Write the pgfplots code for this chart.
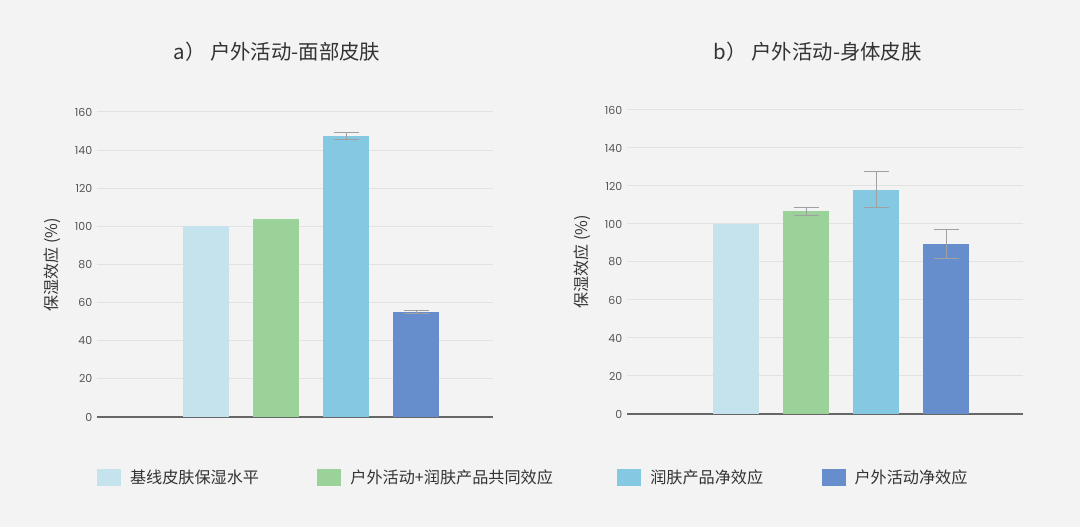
\documentclass[border=0pt]{standalone}
\usepackage{pgfplots}
\pgfplotsset{compat=1.18}
\usepackage{fontspec}
\setmainfont{Poppins}
\newfontfamily\cjk{Noto Sans CJK SC}
\newfontfamily\pop{Poppins}
\definecolor{bg}{HTML}{F3F3F3}
\definecolor{cA}{HTML}{C5E3EC}
\definecolor{cB}{HTML}{9BD29A}
\definecolor{cC}{HTML}{84C8E2}
\definecolor{cD}{HTML}{678ECC}
\definecolor{axgray}{HTML}{666666}
\definecolor{gridc}{HTML}{E2E2E2}
\definecolor{tickc}{HTML}{555555}
\definecolor{labc}{HTML}{333333}
\definecolor{errc}{HTML}{A0A0A0}
\begin{document}
\begin{tikzpicture}
\fill[bg] (0,0) rectangle (810pt,395.25pt);
\pgfplotsset{
 myax/.style={
  scale only axis, width=297pt,
  xmin=-0.557, xmax=5.093, ymin=0, ymax=160,
  ytick={0,20,...,160}, xtick=\empty,
  axis x line*=bottom, axis y line*=left,
  y axis line style={draw=none},
  x axis line style={draw=axgray, line width=1.5pt, -},
  major tick length=0pt,
  ymajorgrids, grid style={draw=gridc, line width=0.75pt},
  yticklabel style={font=\pop\fontsize{8.25}{10}\selectfont, text=tickc},
  /pgf/number format/assume math mode=true,
  ylabel={\cjk 保湿效应 (\%)},
  ylabel style={font=\cjk\fontsize{12}{14}\selectfont, text=labc, at={(rel axis cs:-0.1136,0.5)}, anchor=center},
  clip=false,
  legend image code/.code={\fill[##1] (0pt,-6.4pt) rectangle (18pt,6.4pt);},
 },
 mybar/.style={ybar, bar width=34.5pt, bar shift=0pt, draw=none, fill=#1},
 myerr/.style={error bars/.cd, y dir=both, y explicit,
   error bar style={color=errc, line width=0.75pt},
   error mark options={rotate=90, mark size=9.5pt, color=errc, line width=0.75pt}},
}
% Left panel
\begin{axis}[myax, height=228.75pt, at={(72.75pt,82.5pt)}, anchor=south west,
  legend style={at={(rel axis cs:0,-0.198)}, anchor=west, draw=none, fill=none,
    inner sep=0pt, outer sep=0pt, legend columns=4,
    font=\cjk\fontsize{12.1}{14}\selectfont, text=labc,
    nodes={inner sep=0pt},
    /tikz/every odd column/.append style={column sep=6.75pt},
    /tikz/column 2/.append style={column sep=43.75pt},
    /tikz/column 4/.append style={column sep=48.25pt},
    /tikz/column 6/.append style={column sep=43.75pt}}]
\addplot[mybar=cA] coordinates {(1,100)};
\addlegendentry{基线皮肤保湿水平}
\addplot[mybar=cB] coordinates {(2,103.7)};
\addlegendentry{户外活动+润肤产品共同效应}
\addplot[mybar=cC, myerr] coordinates {(3,147.5) +- (0,1.7)};
\addlegendentry{润肤产品净效应}
\addplot[mybar=cD, myerr] coordinates {(4,55.1) +- (0,1.0)};
\addlegendentry{户外活动净效应}
\node[font=\cjk\fontsize{15.3}{18}\selectfont, text=labc] at (rel axis cs:0.4545,1.197) {a） 户外活动-面部皮肤};
\end{axis}
% Right panel
\begin{axis}[myax, height=228pt, at={(470.25pt,84.75pt)}, anchor=south west]
\addplot[mybar=cA] coordinates {(1,100)};
\addplot[mybar=cB, myerr] coordinates {(2,106.7) +- (0,2.0)};
\addplot[mybar=cC, myerr] coordinates {(3,118) +- (0,9.5)};
\addplot[mybar=cD, myerr] coordinates {(4,89.5) +- (0,7.8)};
\node[font=\cjk\fontsize{15.3}{18}\selectfont, text=labc] at (rel axis cs:0.482,1.191) {b） 户外活动-身体皮肤};
\end{axis}
\end{tikzpicture}
\end{document}
